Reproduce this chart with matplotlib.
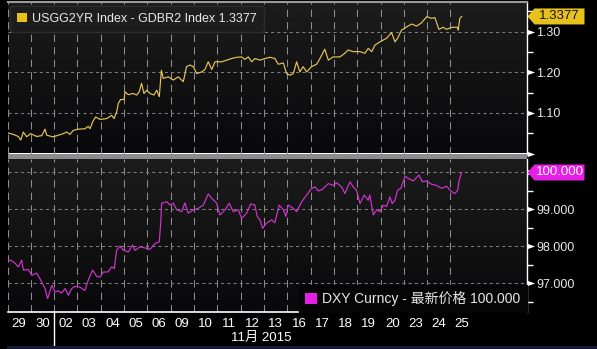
import matplotlib
matplotlib.use("Agg")
import matplotlib.pyplot as plt
import matplotlib.transforms as mtransforms
from matplotlib.colors import LinearSegmentedColormap
from matplotlib.patches import Patch, Polygon, Rectangle
import numpy as np

plt.rcParams['font.family'] = ['Liberation Sans', 'Noto Sans CJK SC', 'DejaVu Sans']

#---------------------------------------data------------------------------------
day_labels = ['29', '30', '02', '03', '04', '05', '06', '09', '10', '11',
              '12', '13', '16', '17', '18', '19', '20', '23', '24', '25']

# time in trading days since the 29 Oct open
spread_t = [0.00, 0.25, 0.46, 0.57, 0.68, 0.82, 0.99, 1.25, 1.47, 1.61, 1.68, 1.96, 2.18, 2.39,
            2.54, 2.68, 2.82, 3.04, 3.32, 3.46, 3.54, 3.65, 3.78, 3.97, 4.25, 4.47, 4.57, 4.68,
            4.75, 4.85, 5.00, 5.04, 5.18, 5.39, 5.54, 5.65, 5.75, 5.85, 5.97, 6.11, 6.28, 6.40,
            6.51, 6.60, 6.68, 6.90, 7.11, 7.32, 7.54, 7.68, 7.83, 7.97, 8.11, 8.33, 8.47, 8.61,
            8.76, 8.90, 9.19, 9.40, 9.61, 9.83, 10.04, 10.18, 10.33, 10.47, 10.61, 10.83, 11.04,
            11.26, 11.47, 11.61, 11.83, 11.97, 12.11, 12.26, 12.40, 12.54, 12.68, 12.83, 13.04,
            13.26, 13.40, 13.61, 13.76, 13.97, 14.26, 14.47, 14.61, 14.83, 15.12, 15.33, 15.47,
            15.62, 15.76, 15.97, 16.26, 16.47, 16.62, 16.73, 16.90, 17.12, 17.33, 17.55, 17.76,
            17.98, 18.19, 18.33, 18.50, 18.69, 18.83, 19.05, 19.31, 19.33, 19.40, 19.48]
spread_v = [1.051, 1.047, 1.042, 1.033, 1.053, 1.041, 1.049, 1.042, 1.044, 1.060, 1.045, 1.041,
            1.045, 1.049, 1.053, 1.047, 1.057, 1.060, 1.061, 1.067, 1.061, 1.078, 1.090, 1.084,
            1.086, 1.094, 1.086, 1.102, 1.123, 1.133, 1.133, 1.152, 1.145, 1.148, 1.144, 1.152,
            1.173, 1.148, 1.156, 1.148, 1.144, 1.156, 1.140, 1.205, 1.185, 1.189, 1.181, 1.189,
            1.177, 1.214, 1.218, 1.214, 1.197, 1.201, 1.207, 1.226, 1.207, 1.226, 1.226, 1.230,
            1.234, 1.237, 1.238, 1.232, 1.238, 1.226, 1.234, 1.230, 1.234, 1.237, 1.234, 1.220,
            1.223, 1.197, 1.193, 1.197, 1.226, 1.201, 1.214, 1.201, 1.214, 1.220, 1.234, 1.257,
            1.230, 1.238, 1.238, 1.247, 1.255, 1.251, 1.251, 1.247, 1.259, 1.251, 1.267, 1.275,
            1.284, 1.298, 1.275, 1.284, 1.304, 1.312, 1.319, 1.314, 1.322, 1.337, 1.333, 1.335,
            1.306, 1.311, 1.306, 1.311, 1.311, 1.304, 1.333, 1.3377]

dxy_t = [0.00, 0.18, 0.32, 0.46, 0.61, 0.68, 0.89, 1.04, 1.25, 1.47, 1.61, 1.72, 1.90, 2.04,
         2.18, 2.32, 2.47, 2.61, 2.75, 2.89, 3.11, 3.32, 3.46, 3.65, 3.83, 3.97, 4.11, 4.31,
         4.47, 4.58, 4.68, 4.82, 4.97, 5.18, 5.37, 5.47, 5.68, 5.97, 6.11, 6.33, 6.51, 6.57,
         6.61, 6.83, 6.97, 7.11, 7.26, 7.47, 7.61, 7.75, 7.97, 8.18, 8.40, 8.61, 8.76, 8.97,
         9.11, 9.33, 9.51, 9.68, 9.90, 10.04, 10.26, 10.43, 10.61, 10.71, 10.83, 10.94, 11.11,
         11.33, 11.47, 11.65, 11.83, 11.94, 12.04, 12.26, 12.40, 12.62, 12.83, 13.04, 13.19,
         13.33, 13.50, 13.76, 13.97, 14.12, 14.33, 14.47, 14.69, 14.83, 14.97, 15.12, 15.30,
         15.47, 15.54, 15.69, 15.83, 15.97, 16.12, 16.26, 16.40, 16.50, 16.62, 16.73, 16.87,
         17.05, 17.19, 17.40, 17.65, 17.79, 17.98, 18.19, 18.40, 18.62, 18.83, 19.05, 19.19,
         19.31, 19.37, 19.48]
dxy_v = [97.65, 97.61, 97.55, 97.45, 97.63, 97.36, 97.38, 97.22, 97.28, 97.04, 96.86, 96.59,
         96.95, 96.77, 96.80, 96.74, 96.86, 96.68, 96.86, 96.92, 96.90, 96.81, 97.08, 97.36,
         97.19, 97.17, 97.31, 97.31, 97.45, 97.40, 97.90, 98.01, 97.90, 97.85, 98.04, 97.89,
         97.99, 97.95, 97.92, 98.08, 98.13, 98.62, 99.17, 99.21, 99.12, 99.17, 98.99, 98.94,
         99.18, 98.90, 98.99, 99.03, 99.12, 99.42, 99.30, 99.17, 98.85, 98.99, 99.17, 98.94,
         98.99, 98.76, 98.90, 99.15, 99.12, 98.81, 98.72, 98.49, 98.63, 98.72, 98.64, 99.12,
         98.99, 98.81, 99.12, 99.03, 98.94, 99.21, 99.39, 99.57, 99.61, 99.50, 99.54, 99.70,
         99.65, 99.72, 99.61, 99.43, 99.75, 99.61, 99.52, 99.16, 99.39, 99.25, 99.39, 98.85,
         98.99, 98.94, 99.12, 99.08, 99.34, 99.16, 99.25, 99.52, 99.57, 99.90, 99.84, 99.77,
         99.93, 99.75, 99.77, 99.68, 99.65, 99.57, 99.63, 99.48, 99.43, 99.52, 99.79, 100.00]

spread_ticks = [1.00, 1.10, 1.20, 1.30]
spread_ticklabels = ['', '1.10', '1.20', '1.30']
dxy_ticks = [97.0, 98.0, 99.0, 100.0]
dxy_ticklabels = ['97.000', '98.000', '99.000', '']

#---------------------------------------style------------------------------------------------------
YELLOW_LINE = '#e6c456'
YELLOW = '#e8c21c'
MAGENTA_LINE = '#d233d2'
MAGENTA = '#e61ee6'
TXT = '#e8e8e8'
W, H = 597, 349
XMAX = 22.26

fig = plt.figure(figsize=(W / 100, H / 100), dpi=100, facecolor='black')


def px_axes(x0, y0, x1, y1):
    # axes rectangle from pixel edges (y measured from the top)
    return fig.add_axes([x0 / W, 1 - y1 / H, (x1 - x0) / W, (y1 - y0) / H])


ax1 = px_axes(7.5, 2, 526.5, 153.5)
ax2 = px_axes(7.5, 158.5, 526.5, 312.3)

bg = LinearSegmentedColormap.from_list('bg', ['#09090b', '#1c1c1c'])
grad = np.linspace(0, 1, 64).reshape(-1, 1)
wedge = [(0, -0.35), (0, 0.35), (1, 0), (0, -0.35)]

for ax in (ax1, ax2):
    ax.imshow(grad, extent=(0, 1, 0, 1), transform=ax.transAxes, origin='lower',
              aspect='auto', cmap=bg, zorder=0)
    ax.set_xlim(0, XMAX)
    ax.set_xticks(np.arange(0, 20))
    ax.set_xticks(np.arange(20) + 0.5, minor=True)
    ax.tick_params(axis='x', which='both', length=0, labelbottom=False)
    ax.grid(axis='x', which='major', color='#8e8e8e', lw=0.75, ls=(0, (7, 5)))
    ax.grid(axis='y', which='major', color='#7c7c7c', lw=0.75, ls=(0, (3, 3)))
    for s in ('left', 'top', 'bottom'):
        ax.spines[s].set_visible(False)
    ax.spines['right'].set_color('white')
    ax.spines['right'].set_linewidth(1.0)
    ax.yaxis.tick_right()
    ax.set_axisbelow(True)

ax1.spines['top'].set_visible(True)
ax1.spines['top'].set_color('#9a9a9a')
ax1.spines['top'].set_linewidth(1.5)
ax2.spines['bottom'].set_visible(True)
ax2.spines['bottom'].set_color('white')
ax2.spines['bottom'].set_linewidth(1.2)

ax1.plot(spread_t, spread_v, color=YELLOW_LINE, lw=0.85, zorder=3)
ax2.plot(dxy_t, dxy_v, color=MAGENTA_LINE, lw=0.85, zorder=3)

ax1.set_ylim(1.0, 1.3733)
ax2.set_ylim(96.22, 100.378)


def right_axis(ax, ticks, labels, minor):
    ax.set_yticks(ticks)
    ax.set_yticklabels(labels)
    ax.set_yticks(minor, minor=True)
    ax.tick_params(axis='y', which='major', length=0, pad=7, labelsize=9, labelcolor=TXT)
    ax.tick_params(axis='y', which='minor', length=4, width=1, color='white')
    tr = mtransforms.blended_transform_factory(ax.transAxes, ax.transData)
    ax.plot([1.0] * len(ticks), ticks, transform=tr, ls='none', marker=wedge, ms=11,
            color='white', mec='none', clip_on=False, zorder=5)


right_axis(ax1, spread_ticks, spread_ticklabels, [1.05, 1.15, 1.25, 1.35])
right_axis(ax2, dxy_ticks, dxy_ticklabels, [96.5, 97.5, 98.5, 99.5])


def value_tag(ax, value, text, fc, tc):
    tr = mtransforms.blended_transform_factory(ax.transAxes, ax.transData)
    x0, y0 = tr.transform((1.0, value))
    shape = np.array([(1, 0), (8, 8), (58, 8), (58, -8), (8, -8)]) + (x0, y0)
    ax.add_patch(Polygon(shape, closed=True, fc=fc, ec='none', clip_on=False,
                         transform=mtransforms.IdentityTransform(), zorder=6))
    ax.annotate(text, xy=(1.0, value), xycoords=tr, xytext=(33 * 0.72, 0),
                textcoords='offset points', ha='center', va='center', fontsize=9.5,
                color=tc, annotation_clip=False, zorder=7)


value_tag(ax1, spread_v[-1], f'{spread_v[-1]:.4f}', YELLOW, '#111111')
value_tag(ax2, dxy_v[-1], f'{dxy_v[-1]:.3f}', MAGENTA, 'white')

# legends
leg1 = ax1.legend(handles=[Patch(fc=YELLOW, ec='none')],
                  labels=[f'USGG2YR Index - GDBR2 Index {spread_v[-1]:.4f}'],
                  loc='upper left', bbox_to_anchor=(0.005, 0.974), borderaxespad=0,
                  fontsize=9, frameon=True, fancybox=True, facecolor='#1d1d1d',
                  edgecolor='#2c2c2c', framealpha=1, labelcolor=TXT, handlelength=0.8,
                  handleheight=0.8, handletextpad=0.4, borderpad=0.55)
leg2 = ax2.legend(handles=[Patch(fc=MAGENTA, ec='none')],
                  labels=[f'DXY Curncy - 最新价格 {dxy_v[-1]:.3f}'],
                  loc='lower right', bbox_to_anchor=(1.0, 0.0), borderaxespad=0,
                  fontsize=10, frameon=True, fancybox=False, facecolor='#050505',
                  edgecolor='#050505', framealpha=1, labelcolor=TXT, handlelength=0.85,
                  handleheight=0.85, handletextpad=0.35, borderpad=0.45)

# x axis labels on the bottom panel
ax2.set_xticks(np.arange(20) + 0.5, minor=True)
ax2.set_xticklabels(day_labels, minor=True)
ax2.tick_params(axis='x', which='minor', labelbottom=True, labelsize=9.5, labelcolor='white',
                pad=4)
trx = mtransforms.blended_transform_factory(ax2.transData, ax2.transAxes)
ax2.plot([2, 2], [0, -0.215], transform=trx, color='white', lw=1.0, clip_on=False)
ax2.text(10.9, -0.167, '11月 2015', transform=trx, ha='center', va='center', fontsize=9.5,
         color='white')

# separator bar between the panels and the bottom strip
fig.add_artist(Rectangle((7.5 / W, 1 - 158.5 / H), 519 / W, 4.5 / H,
                         transform=fig.transFigure, fc='#8c8c8c', ec='none'))
fig.add_artist(Rectangle((7 / W, 0), 1 - 7 / W, 3.5 / H, transform=fig.transFigure,
                         fc='#17173c', ec='none'))

fig.savefig('out.png', dpi=100, facecolor='black')
